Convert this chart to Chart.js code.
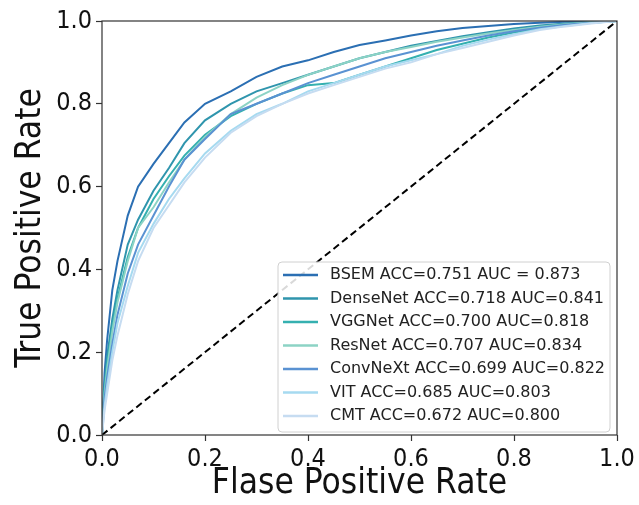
<!DOCTYPE html>
<html>
<head>
<meta charset="utf-8">
<script src="https://cdn.jsdelivr.net/npm/chart.js@4/dist/chart.umd.min.js"></script>
<style>
  html, body { margin: 0; padding: 0; background: #fff; }
  #wrap { width: 639px; height: 505px; }
</style>
</head>
<body>
<div id="wrap"><canvas id="c" width="639" height="505"></canvas></div>
<script>
// ---- data ----
const fpr = [0, 0.005, 0.01, 0.02, 0.03, 0.05, 0.07, 0.1, 0.13, 0.16, 0.2, 0.25, 0.3, 0.35, 0.4, 0.45, 0.5, 0.55, 0.6, 0.65, 0.7, 0.75, 0.8, 0.85, 0.9, 0.95, 1.0];
const tprBSEM     = [0, 0.15, 0.23, 0.35, 0.42, 0.53, 0.60, 0.655, 0.705, 0.755, 0.80, 0.83, 0.865, 0.89, 0.905, 0.925, 0.942, 0.953, 0.965, 0.975, 0.983, 0.988, 0.993, 0.996, 0.998, 0.999, 1];
const tprDenseNet = [0, 0.12, 0.19, 0.28, 0.35, 0.46, 0.52, 0.59, 0.645, 0.705, 0.76, 0.80, 0.83, 0.85, 0.87, 0.89, 0.91, 0.925, 0.94, 0.952, 0.963, 0.973, 0.982, 0.989, 0.994, 0.998, 1];
const tprVGGNet   = [0, 0.11, 0.17, 0.26, 0.33, 0.43, 0.50, 0.57, 0.625, 0.675, 0.725, 0.77, 0.80, 0.825, 0.845, 0.85, 0.87, 0.89, 0.91, 0.93, 0.945, 0.96, 0.972, 0.982, 0.99, 0.996, 1];
const tprResNet   = [0, 0.10, 0.16, 0.25, 0.32, 0.42, 0.50, 0.55, 0.61, 0.665, 0.72, 0.775, 0.815, 0.845, 0.87, 0.89, 0.91, 0.925, 0.937, 0.95, 0.96, 0.97, 0.978, 0.986, 0.992, 0.997, 1];
const tprConvNeXt = [0, 0.09, 0.14, 0.22, 0.29, 0.39, 0.46, 0.53, 0.60, 0.665, 0.715, 0.775, 0.80, 0.825, 0.85, 0.87, 0.89, 0.91, 0.925, 0.94, 0.953, 0.965, 0.975, 0.984, 0.991, 0.996, 1];
const tprVIT      = [0, 0.07, 0.12, 0.20, 0.27, 0.36, 0.44, 0.51, 0.57, 0.62, 0.68, 0.735, 0.775, 0.80, 0.83, 0.85, 0.87, 0.89, 0.905, 0.92, 0.94, 0.955, 0.968, 0.98, 0.988, 0.995, 1];
const tprCMT      = [0, 0.06, 0.10, 0.18, 0.24, 0.34, 0.42, 0.50, 0.555, 0.61, 0.67, 0.73, 0.77, 0.80, 0.825, 0.845, 0.865, 0.885, 0.90, 0.92, 0.935, 0.95, 0.965, 0.978, 0.987, 0.994, 1];
const chanceLine  = [0, 1];

const seriesLabels = [
  'BSEM ACC=0.751 AUC = 0.873',
  'DenseNet ACC=0.718 AUC=0.841',
  'VGGNet ACC=0.700 AUC=0.818',
  'ResNet ACC=0.707 AUC=0.834',
  'ConvNeXt ACC=0.699 AUC=0.822',
  'VIT ACC=0.685 AUC=0.803',
  'CMT ACC=0.672 AUC=0.800'
];
const seriesTpr = [tprBSEM, tprDenseNet, tprVGGNet, tprResNet, tprConvNeXt, tprVIT, tprCMT];
const seriesColors = ['#2b6fb3', '#2f95ad', '#35b0b0', '#8cd3c5', '#5a92d2', '#a6daf0', '#c6dcf1'];
const tickValues = [0, 0.2, 0.4, 0.6, 0.8, 1.0];

const AXIS_FONT = '"DejaVu Sans Condensed", "DejaVu Sans", sans-serif';

const datasets = seriesTpr.map((t, i) => ({
  label: seriesLabels[i],
  data: fpr.map((x, k) => ({ x: x, y: t[k] })),
  borderColor: seriesColors[i],
  backgroundColor: seriesColors[i],
  borderWidth: 2,
  pointRadius: 0,
  fill: false,
  tension: 0,
  order: 7 - i
}));
datasets.push({
  label: '__chance',
  data: chanceLine.map(v => ({ x: v, y: v })),
  borderColor: '#000',
  borderWidth: 2,
  borderDash: [7, 4],
  pointRadius: 0,
  fill: false,
  order: 0
});

const frameAndLegend = {
  id: 'frameAndLegend',
  afterDatasetsDraw(chart) {
    const ctx = chart.ctx;
    const a = chart.chartArea;
    ctx.save();
    ctx.strokeStyle = '#333';
    ctx.lineWidth = 1.2;
    ctx.strokeRect(a.left, a.top, a.right - a.left, a.bottom - a.top);
    ctx.restore();
  },
  afterDraw(chart) {
    const ctx = chart.ctx;
    const a = chart.chartArea;
    const bw = 332, bh = 170;
    const bx = a.right - 7 - bw, by = a.bottom - 3 - bh;
    ctx.save();
    ctx.beginPath();
    if (ctx.roundRect) ctx.roundRect(bx, by, bw, bh, 4); else ctx.rect(bx, by, bw, bh);
    ctx.fillStyle = 'rgba(255,255,255,0.85)';
    ctx.fill();
    ctx.strokeStyle = '#d0d0d0';
    ctx.lineWidth = 1;
    ctx.stroke();
    ctx.font = '16px "DejaVu Sans"';
    ctx.textBaseline = 'middle';
    ctx.textAlign = 'left';
    chart.data.datasets.forEach((ds, i) => {
      if (ds.label === '__chance') return;
      const y = by + 13 + i * 23.5;
      ctx.strokeStyle = ds.borderColor;
      ctx.lineWidth = 2.5;
      ctx.beginPath();
      ctx.moveTo(bx + 5, y);
      ctx.lineTo(bx + 40, y);
      ctx.stroke();
      ctx.fillStyle = '#222';
      ctx.fillText(ds.label, bx + 52, y);
    });
    ctx.restore();
  }
};

new Chart(document.getElementById('c'), {
  type: 'line',
  data: { datasets: datasets },
  options: {
    responsive: false,
    animation: false,
    layout: { padding: { left: 0, right: 22, top: 21, bottom: 0 } },
    plugins: { legend: { display: false }, tooltip: { enabled: false } },
    scales: {
      x: {
        type: 'linear', min: 0, max: 1,
        afterBuildTicks(s) { s.ticks = tickValues.map(v => ({ value: v })); },
        afterFit(s) { s.height = 70; },
        grid: { drawOnChartArea: false, drawTicks: true, tickLength: 6, tickColor: '#333', tickWidth: 1.2 },
        border: { display: false },
        ticks: { color: '#111', padding: 3, maxRotation: 0, font: { family: AXIS_FONT, size: 25 }, callback: v => Number(v).toFixed(1) },
        title: { display: true, text: 'Flase Positive Rate', color: '#111', font: { family: AXIS_FONT, size: 35 }, padding: { top: -4, bottom: 0 } }
      },
      y: {
        type: 'linear', min: 0, max: 1,
        afterBuildTicks(s) { s.ticks = tickValues.map(v => ({ value: v })); },
        afterFit(s) { s.width = 102; },
        grid: { drawOnChartArea: false, drawTicks: true, tickLength: 6, tickColor: '#333', tickWidth: 1.2 },
        border: { display: false },
        ticks: { color: '#111', padding: 4, font: { family: AXIS_FONT, size: 25 }, callback: v => Number(v).toFixed(1) },
        title: { display: true, text: 'True Positive Rate', color: '#111', font: { family: AXIS_FONT, size: 35 }, padding: { top: 10, bottom: 0 } }
      }
    }
  },
  plugins: [frameAndLegend]
});
</script>
</body>
</html>
